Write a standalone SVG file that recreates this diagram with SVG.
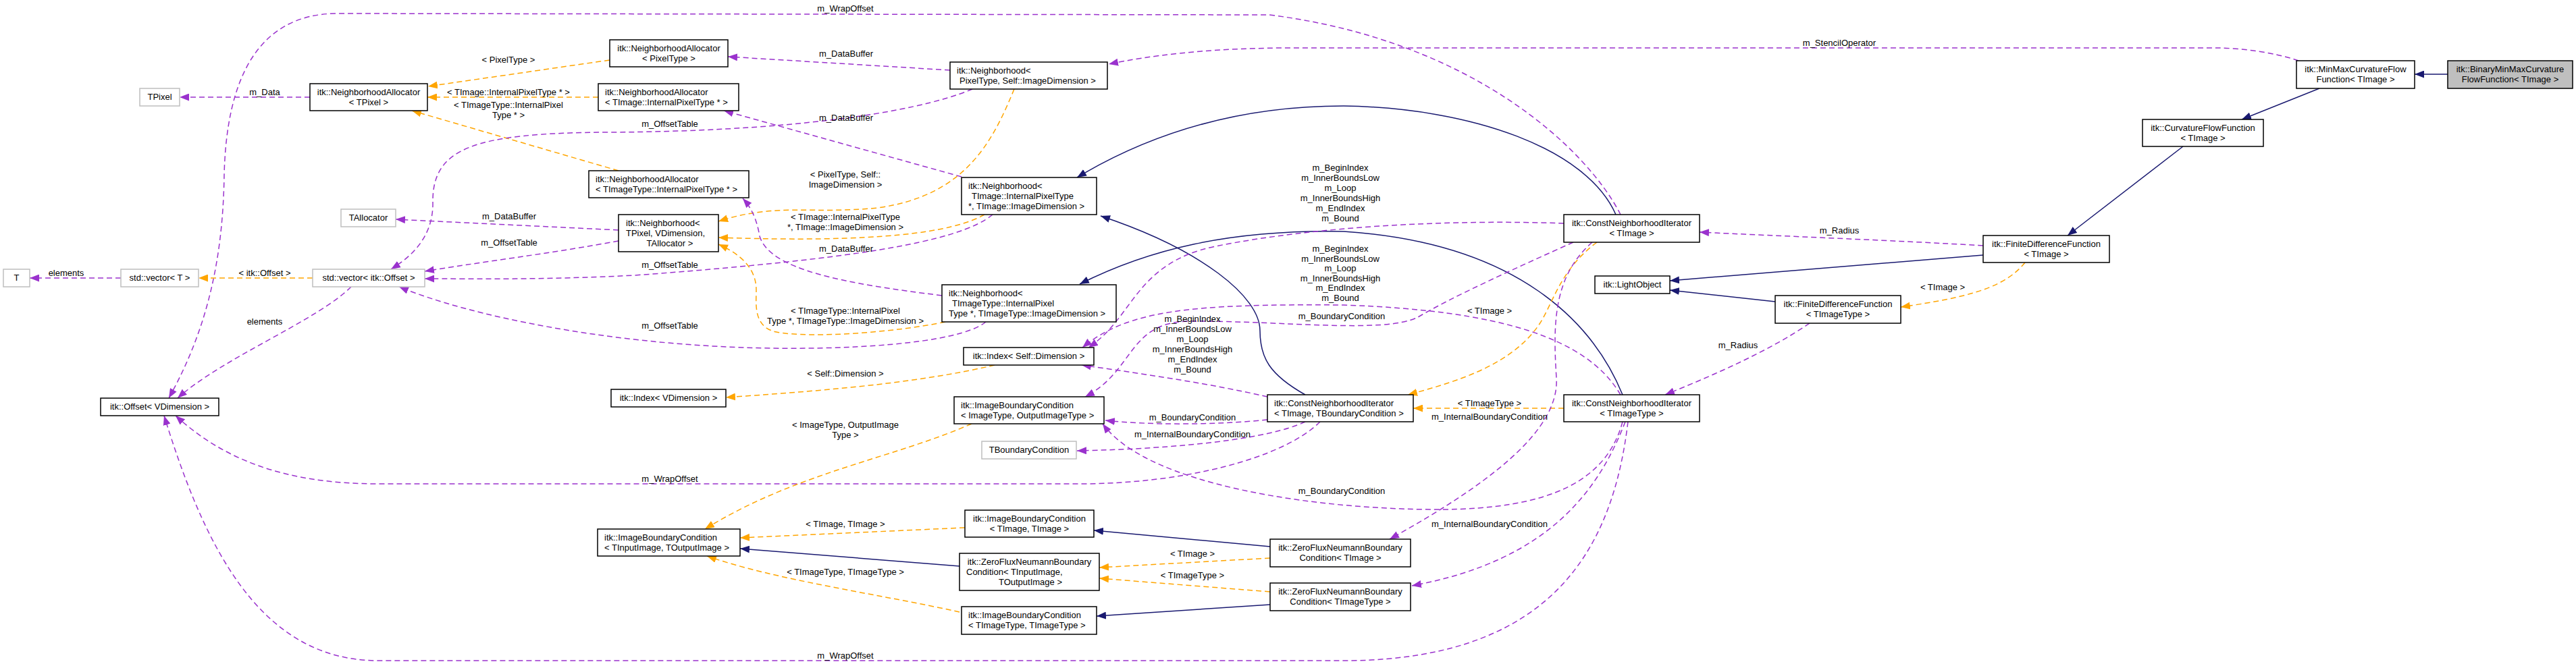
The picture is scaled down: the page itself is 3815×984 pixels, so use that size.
<svg xmlns="http://www.w3.org/2000/svg" width="3815" height="984" viewBox="0 0 3815 984">
<style>
text{font-family:"Liberation Sans",Arial,Helvetica,sans-serif;font-size:13px;fill:#000}
.c{text-anchor:middle}
.r{text-anchor:end}
.n rect{fill:#fff;stroke:#000;stroke-width:1.5}
.g rect{fill:#fff;stroke:#bfbfbf;stroke-width:1.5}
.sel rect{fill:#bfbfbf;stroke:#000;stroke-width:1.5}
#edges path{fill:none;stroke-width:1.5}
#edges .u{stroke:#9a32cd;stroke-dasharray:8,5;marker-end:url(#mu)}
#edges .t{stroke:#ffa500;stroke-dasharray:8,5;marker-end:url(#mt)}
#edges .i{stroke:#191970;marker-end:url(#mi)}
</style>
<defs>
<marker id="mu" markerUnits="userSpaceOnUse" viewBox="0 0 15 11" markerWidth="15" markerHeight="11" refX="14" refY="5.5" orient="auto"><path d="M0,0 L14,5.5 L0,11 z" fill="#9a32cd" stroke="none"/></marker>
<marker id="mt" markerUnits="userSpaceOnUse" viewBox="0 0 15 11" markerWidth="15" markerHeight="11" refX="14" refY="5.5" orient="auto"><path d="M0,0 L14,5.5 L0,11 z" fill="#ffa500" stroke="none"/></marker>
<marker id="mi" markerUnits="userSpaceOnUse" viewBox="0 0 15 11" markerWidth="15" markerHeight="11" refX="14" refY="5.5" orient="auto"><path d="M0,0 L14,5.5 L0,11 z" fill="#191970" stroke="none"/></marker>
</defs>
<rect width="3815" height="984" fill="#fff"/>

<g id="edges">
<g><path class="i" d="M3625,110 L3576,110"/></g>
<g><path class="i" d="M3435,131 L3320,177"/></g>
<g><path class="i" d="M3233,217 L3062,349"/></g>
<g><path class="i" d="M2937,378 L2473,416"/></g>
<g><path class="i" d="M2629,447 L2473,430"/></g>
<g><path class="t" d="M2999,389 C2970,425 2920,440 2815,455"/><text class="c" x="2877" y="430">&lt; TImage &gt;</text></g>
<g><path class="u" d="M3404,90 C3370,78 3320,71 3280,71 L1900,71 C1780,72 1700,83 1642,95"/><text class="c" x="2724" y="68">m_StencilOperator</text></g>
<g><path class="u" d="M2937,364 C2800,356 2640,350 2517,344"/><text class="c" x="2724" y="346">m_Radius</text></g>
<g><path class="u" d="M2680,479 C2620,520 2540,555 2466,585"/><text class="c" x="2574" y="516">m_Radius</text></g>
<g><path class="i" d="M2393,318 C2350,220 2180,160 1990,157 C1830,157 1700,200 1595,263"/></g>
<g><path class="i" d="M2403,585 C2360,480 2250,360 1990,343 C1820,340 1700,370 1599,421"/></g>
<g><path class="i" d="M1933,585 C1880,555 1866,530 1866,490 C1866,440 1780,370 1630,320"/></g>
<g><path class="t" d="M2316,605 L2093,605"/><text class="c" x="2206" y="602">&lt; TImageType &gt;</text></g>
<g><path class="t" d="M2365,359 C2310,400 2300,450 2280,480 C2240,540 2160,565 2085,585"/><text class="c" x="2206" y="465">&lt; TImage &gt;</text></g>
<g><path class="u" d="M2358,359 C2300,410 2300,480 2305,560 C2310,640 2200,720 2058,799"/><text class="c" x="2206" y="622">m_InternalBoundaryCondition</text></g>
<g><path class="u" d="M2407,625 C2370,720 2300,830 2091,868"/><text class="c" x="2206" y="781">m_InternalBoundaryCondition</text></g>
<g><path class="u" d="M2403,625 C2380,710 2300,755 2130,755 C1950,755 1700,720 1633,628"/><text class="c" x="1987" y="732">m_BoundaryCondition</text></g>
<g><path class="u" d="M2411,625 C2390,800 2310,975 2000,979 L560,979 C380,979 300,800 243,616"/><text class="c" x="1252" y="976">m_WrapOffset</text></g>
<g><path class="u" d="M2400,585 C2350,500 2220,460 1990,452 C1760,450 1670,460 1603,515"/><text class="c" x="1985" y="373">m_BeginIndex</text><text class="c" x="1985" y="388">m_InnerBoundsLow</text><text class="c" x="1985" y="402">m_Loop</text><text class="c" x="1985" y="417">m_InnerBoundsHigh</text><text class="c" x="1985" y="431">m_EndIndex</text><text class="c" x="1985" y="446">m_Bound</text></g>
<g><path class="u" d="M2316,331 C2150,325 1950,335 1800,365 C1680,390 1680,470 1612,515"/><text class="c" x="1985" y="253">m_BeginIndex</text><text class="c" x="1985" y="268">m_InnerBoundsLow</text><text class="c" x="1985" y="283">m_Loop</text><text class="c" x="1985" y="298">m_InnerBoundsHigh</text><text class="c" x="1985" y="313">m_EndIndex</text><text class="c" x="1985" y="328">m_Bound</text></g>
<g><path class="u" d="M2330,359 C2250,395 2150,440 2100,470 C2050,495 1900,475 1760,476 C1670,478 1680,550 1607,588"/><text class="c" x="1987" y="473">m_BoundaryCondition</text></g>
<g><path class="u" d="M1877,588 C1800,570 1700,555 1602,541"/><text class="c" x="1766" y="477">m_BeginIndex</text><text class="c" x="1766" y="492">m_InnerBoundsLow</text><text class="c" x="1766" y="507">m_Loop</text><text class="c" x="1766" y="522">m_InnerBoundsHigh</text><text class="c" x="1766" y="537">m_EndIndex</text><text class="c" x="1766" y="552">m_Bound</text></g>
<g><path class="u" d="M1877,622 C1800,630 1700,630 1637,623"/><text class="c" x="1766" y="623">m_BoundaryCondition</text></g>
<g><path class="u" d="M1933,625 C1880,650 1750,665 1595,668"/><text class="c" x="1766" y="648">m_InternalBoundaryCondition</text></g>
<g><path class="u" d="M1955,625 C1900,680 1750,717 1600,717 L560,717 C420,717 330,680 260,616"/><text class="c" x="992" y="714">m_WrapOffset</text></g>
<g><path class="u" d="M2400,318 C2350,220 2180,60 1880,22 L500,20 C380,20 335,120 332,260 C330,400 300,500 250,590"/><text class="c" x="1252" y="17">m_WrapOffset</text></g>
<g><path class="u" d="M520,425 C470,475 330,530 263,590"/><text class="c" x="392" y="481">elements</text></g>
<g><path class="u" d="M179,412 L44,412"/><text class="c" x="98" y="409">elements</text></g>
<g><path class="t" d="M463,412 L294,412"/><text class="c" x="392" y="409">&lt; itk::Offset &gt;</text></g>
<g><path class="u" d="M459,144 L266,144"/><text class="c" x="392" y="141">m_Data</text></g>
<g><path class="t" d="M903,89 L634,128"/><text class="c" x="753" y="93">&lt; PixelType &gt;</text></g>
<g><path class="t" d="M886,144 L633,144"/><text class="c" x="753" y="141">&lt; TImage::InternalPixelType * &gt;</text></g>
<g><path class="t" d="M916,253 L610,164"/><text class="c" x="753" y="160">&lt; TImageType::InternalPixel</text><text class="c" x="753" y="175">Type * &gt;</text></g>
<g><path class="u" d="M916,341 L586,325"/><text class="c" x="754" y="325">m_DataBuffer</text></g>
<g><path class="u" d="M916,357 C820,375 700,390 629,402"/><text class="c" x="754" y="364">m_OffsetTable</text></g>
<g><path class="u" d="M1440,132 C1350,170 1150,195 900,196 C700,197 640,220 641,300 C642,350 610,380 579,399"/><text class="c" x="992" y="188">m_OffsetTable</text></g>
<g><path class="u" d="M1407,104 L1078,84"/><text class="c" x="1253" y="84">m_DataBuffer</text></g>
<g><path class="u" d="M1424,262 L1072,164"/><text class="c" x="1253" y="179">m_DataBuffer</text></g>
<g><path class="t" d="M1502,132 C1470,210 1430,290 1300,308 C1200,318 1150,300 1064,328"/><text class="c" x="1252" y="263">&lt; PixelType, Self::</text><text class="c" x="1252" y="278">ImageDimension &gt;</text></g>
<g><path class="t" d="M1458,318 C1410,345 1300,360 1064,352"/><text class="c" x="1252" y="326">&lt; TImage::InternalPixelType</text><text class="c" x="1252" y="341">*, TImage::ImageDimension &gt;</text></g>
<g><path class="u" d="M1470,318 C1420,360 1250,385 940,408 C800,415 700,413 629,413"/><text class="c" x="992" y="397">m_OffsetTable</text></g>
<g><path class="u" d="M1395,438 C1250,420 1140,400 1125,350 C1120,320 1110,305 1100,294"/><text class="c" x="1253" y="373">m_DataBuffer</text></g>
<g><path class="t" d="M1400,477 C1330,492 1200,502 1150,492 C1115,485 1120,450 1120,430 C1120,400 1100,378 1064,362"/><text class="c" x="1252" y="465">&lt; TImageType::InternalPixel</text><text class="c" x="1252" y="480">Type *, TImageType::ImageDimension &gt;</text></g>
<g><path class="u" d="M1460,477 C1420,510 1250,520 1100,515 C900,508 700,470 591,425"/><text class="c" x="992" y="487">m_OffsetTable</text></g>
<g><path class="t" d="M1473,541 C1350,570 1200,580 1075,589"/><text class="c" x="1252" y="558">&lt; Self::Dimension &gt;</text></g>
<g><path class="t" d="M1439,628 C1320,680 1180,700 1044,784"/><text class="c" x="1252" y="634">&lt; ImageType, OutputImage</text><text class="c" x="1252" y="649">Type &gt;</text></g>
<g><path class="t" d="M1429,782 L1096,797"/><text class="c" x="1252" y="781">&lt; TImage, TImage &gt;</text></g>
<g><path class="i" d="M1421,839 L1096,813"/></g>
<g><path class="t" d="M1421,907 C1300,880 1150,860 1047,824"/><text class="c" x="1252" y="852">&lt; TImageType, TImageType &gt;</text></g>
<g><path class="i" d="M1881,810 L1620,786"/></g>
<g><path class="t" d="M1881,827 L1628,841"/><text class="c" x="1766" y="825">&lt; TImage &gt;</text></g>
<g><path class="t" d="M1881,877 L1628,857"/><text class="c" x="1766" y="857">&lt; TImageType &gt;</text></g>
<g><path class="i" d="M1881,896 L1624,913"/></g>
</g>

<g id="node_T" class="g"><rect x="5" y="399" width="39" height="26"/><text class="c" x="24.5" y="416">T</text></g>
<g id="node_vecT" class="g"><rect x="179" y="399" width="115" height="26"/><text class="c" x="236.5" y="416">std::vector&lt; T &gt;</text></g>
<g id="node_vecOffset" class="g"><rect x="463" y="399" width="166" height="26"/><text class="c" x="546" y="416">std::vector&lt; itk::Offset &gt;</text></g>
<g id="node_TPixel" class="g"><rect x="207" y="131" width="59" height="26"/><text class="c" x="236.5" y="148">TPixel</text></g>
<g id="node_NA_TPixel" class="n"><rect x="459" y="124" width="174" height="40"/><text class="c" x="546" y="141">itk::NeighborhoodAllocator</text><text class="c" x="546" y="156">&lt; TPixel &gt;</text></g>
<g id="node_NA_PixelType" class="n"><rect x="903" y="59" width="175" height="40"/><text class="c" x="990.5" y="76">itk::NeighborhoodAllocator</text><text class="c" x="990.5" y="91">&lt; PixelType &gt;</text></g>
<g id="node_NA_TImage" class="n"><rect x="886" y="124" width="208" height="40"/><text x="896" y="141">itk::NeighborhoodAllocator</text><text x="896" y="156">&lt; TImage::InternalPixelType * &gt;</text></g>
<g id="node_NA_TImageType" class="n"><rect x="872" y="253" width="237" height="40"/><text x="882" y="270">itk::NeighborhoodAllocator</text><text x="882" y="285">&lt; TImageType::InternalPixelType * &gt;</text></g>
<g id="node_TAllocator" class="g"><rect x="505" y="310" width="81" height="26"/><text class="c" x="545.5" y="327">TAllocator</text></g>
<g id="node_Nb_TPixel" class="n"><rect x="916" y="318" width="148" height="55"/><text x="927" y="335">itk::Neighborhood&lt;</text><text x="927" y="350">TPixel, VDimension,</text><text class="c" x="992" y="365">TAllocator &gt;</text></g>
<g id="node_Nb_PixelType" class="n"><rect x="1407" y="92" width="233" height="40"/><text x="1417" y="109">itk::Neighborhood&lt;</text><text x="1421" y="124">PixelType, Self::ImageDimension &gt;</text></g>
<g id="node_Nb_TImage" class="n"><rect x="1424" y="263" width="200" height="55"/><text x="1434" y="280">itk::Neighborhood&lt;</text><text x="1439" y="295">TImage::InternalPixelType</text><text x="1434" y="310">*, TImage::ImageDimension &gt;</text></g>
<g id="node_Nb_TImageType" class="n"><rect x="1395" y="422" width="258" height="55"/><text x="1405" y="439">itk::Neighborhood&lt;</text><text x="1410" y="454">TImageType::InternalPixel</text><text x="1405" y="469">Type *, TImageType::ImageDimension &gt;</text></g>
<g id="node_Offset" class="n"><rect x="149" y="590" width="175" height="26"/><text class="c" x="236.5" y="607">itk::Offset&lt; VDimension &gt;</text></g>
<g id="node_IndexSelf" class="n"><rect x="1427" y="515" width="193" height="26"/><text class="c" x="1523.5" y="532">itk::Index&lt; Self::Dimension &gt;</text></g>
<g id="node_IndexV" class="n"><rect x="905" y="577" width="170" height="26"/><text class="c" x="990" y="594">itk::Index&lt; VDimension &gt;</text></g>
<g id="node_IBC_ImageType" class="n"><rect x="1413" y="588" width="222" height="40"/><text x="1423" y="605">itk::ImageBoundaryCondition</text><text x="1423" y="620">&lt; ImageType, OutputImageType &gt;</text></g>
<g id="node_TBoundaryCondition" class="g"><rect x="1454" y="654" width="140" height="26"/><text class="c" x="1524" y="671">TBoundaryCondition</text></g>
<g id="node_IBC_TInputImage" class="n"><rect x="885" y="784" width="211" height="40"/><text x="895" y="801">itk::ImageBoundaryCondition</text><text x="895" y="816">&lt; TInputImage, TOutputImage &gt;</text></g>
<g id="node_IBC_TImage" class="n"><rect x="1429" y="756" width="191" height="40"/><text class="c" x="1524.5" y="773">itk::ImageBoundaryCondition</text><text class="c" x="1524.5" y="788">&lt; TImage, TImage &gt;</text></g>
<g id="node_ZF_TInputImage" class="n"><rect x="1421" y="820" width="207" height="55"/><text class="c" x="1524.5" y="837">itk::ZeroFluxNeumannBoundary</text><text x="1431" y="852">Condition&lt; TInputImage,</text><text class="r" x="1573" y="867">TOutputImage &gt;</text></g>
<g id="node_IBC_TImageType" class="n"><rect x="1424" y="899" width="200" height="41"/><text x="1434" y="916">itk::ImageBoundaryCondition</text><text x="1434" y="931">&lt; TImageType, TImageType &gt;</text></g>
<g id="node_CNI_TImage" class="n"><rect x="2316" y="318" width="201" height="41"/><text class="c" x="2416.5" y="335">itk::ConstNeighborhoodIterator</text><text class="c" x="2416.5" y="350">&lt; TImage &gt;</text></g>
<g id="node_CNI_TImage_TBC" class="n"><rect x="1877" y="585" width="216" height="40"/><text x="1887" y="602">itk::ConstNeighborhoodIterator</text><text x="1887" y="617">&lt; TImage, TBoundaryCondition &gt;</text></g>
<g id="node_CNI_TImageType" class="n"><rect x="2316" y="585" width="201" height="40"/><text class="c" x="2416.5" y="602">itk::ConstNeighborhoodIterator</text><text class="c" x="2416.5" y="617">&lt; TImageType &gt;</text></g>
<g id="node_ZF_TImage" class="n"><rect x="1881" y="799" width="208" height="41"/><text class="c" x="1985" y="816">itk::ZeroFluxNeumannBoundary</text><text class="c" x="1985" y="831">Condition&lt; TImage &gt;</text></g>
<g id="node_ZF_TImageType" class="n"><rect x="1881" y="864" width="208" height="41"/><text class="c" x="1985" y="881">itk::ZeroFluxNeumannBoundary</text><text class="c" x="1985" y="896">Condition&lt; TImageType &gt;</text></g>
<g id="node_LightObject" class="n"><rect x="2362" y="409" width="111" height="26"/><text class="c" x="2417.5" y="426">itk::LightObject</text></g>
<g id="node_FDF_TImageType" class="n"><rect x="2629" y="438" width="186" height="41"/><text class="c" x="2722" y="455">itk::FiniteDifferenceFunction</text><text class="c" x="2722" y="470">&lt; TImageType &gt;</text></g>
<g id="node_FDF_TImage" class="n"><rect x="2937" y="349" width="187" height="40"/><text class="c" x="3030.5" y="366">itk::FiniteDifferenceFunction</text><text class="c" x="3030.5" y="381">&lt; TImage &gt;</text></g>
<g id="node_CurvatureFlowFunction" class="n"><rect x="3173" y="177" width="179" height="40"/><text class="c" x="3262.5" y="194">itk::CurvatureFlowFunction</text><text class="c" x="3262.5" y="209">&lt; TImage &gt;</text></g>
<g id="node_MinMaxCurvatureFlowFunction" class="n"><rect x="3401" y="90" width="175" height="41"/><text class="c" x="3488.5" y="107">itk::MinMaxCurvatureFlow</text><text class="c" x="3488.5" y="122">Function&lt; TImage &gt;</text></g>
<g id="node_BinaryMinMaxCurvatureFlowFunction" class="sel"><rect x="3625" y="90" width="185" height="41"/><text class="c" x="3717.5" y="107">itk::BinaryMinMaxCurvature</text><text class="c" x="3717.5" y="122">FlowFunction&lt; TImage &gt;</text></g>
</svg>
